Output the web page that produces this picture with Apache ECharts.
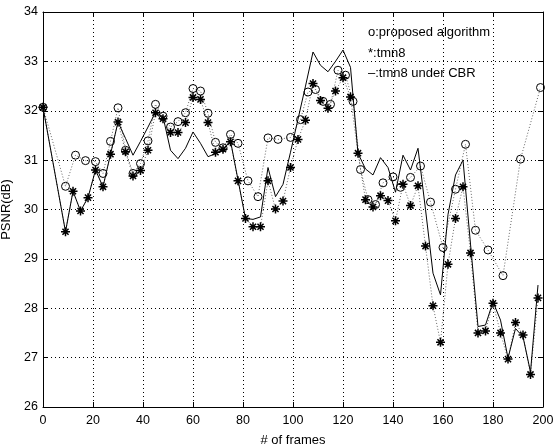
<!DOCTYPE html>
<html>
<head>
<meta charset="utf-8">
<script src="https://cdn.jsdelivr.net/npm/echarts@6/dist/echarts.min.js"></script>
<style>
html,body{margin:0;padding:0;background:#fff;}
#chart{width:556px;height:447px;}
</style>
</head>
<body>
<div id="chart"></div>
<script>
// ---- data ----
const xTickValues = [0, 20, 40, 60, 80, 100, 120, 140, 160, 180, 200];
const yTickValues = [26, 27, 28, 29, 30, 31, 32, 33, 34];

const proposedFrames = [0,9,13,17,21,24,27,30,33,36,39,42,45,48,51,54,57,60,63,66,69,72,75,78,82,86,90,94,99,103,106,109,112,115,118,121,124,127,130,133,136,140,143,147,151,155,160,165,169,173,178,184,191,199];
const proposedPSNR = [32.07,30.47,31.10,30.99,30.97,30.73,31.38,32.06,31.20,30.73,30.93,31.39,32.13,31.89,31.67,31.78,31.96,32.45,32.40,31.95,31.36,31.25,31.52,31.34,30.58,30.26,31.45,31.42,31.46,31.82,32.38,32.43,32.19,32.13,32.82,32.72,32.19,30.81,30.20,30.10,30.54,30.66,30.45,30.65,30.88,30.15,29.23,30.41,31.32,29.58,29.18,28.66,31.02,32.47];

const tmn8Frames = [0,9,12,15,18,21,24,27,30,33,36,39,42,45,48,51,54,57,60,63,66,69,72,75,78,81,84,87,90,93,96,99,102,105,108,111,114,117,120,123,126,129,132,135,138,141,144,147,150,153,156,159,162,165,168,171,174,177,180,183,186,189,192,195,198];
const tmn8PSNR = [32.07,29.55,30.37,29.97,30.24,30.80,30.46,31.12,31.77,31.17,30.68,30.79,31.20,31.96,31.84,31.56,31.56,31.76,32.27,32.23,31.76,31.16,31.22,31.37,30.58,29.82,29.65,29.65,30.58,30.01,30.17,30.85,31.42,31.81,32.55,32.21,32.05,32.40,32.67,32.28,31.14,30.20,30.05,30.28,30.18,29.77,30.51,30.08,30.48,29.26,28.05,27.31,28.89,29.82,30.46,29.12,27.50,27.54,28.10,27.50,26.97,27.71,27.46,26.66,28.21];

const cbrFrames = [0,9,12,15,18,21,24,27,30,33,36,39,42,45,48,51,54,57,60,63,66,69,72,75,78,81,84,87,90,93,96,99,102,105,108,111,114,117,120,123,126,129,132,135,138,141,144,147,150,153,156,159,162,165,168,171,174,177,180,183,186,189,192,195,198];
const cbrPSNR = [32.07,29.55,30.37,29.97,30.24,30.80,30.46,31.12,31.77,31.44,31.10,31.38,31.67,31.97,31.88,31.20,31.03,31.24,31.57,31.34,31.07,31.13,31.22,31.39,30.60,29.82,29.80,29.85,30.85,30.26,30.51,31.16,31.83,32.50,33.19,32.92,32.79,33.00,33.23,32.88,31.14,30.82,30.70,31.05,30.85,30.35,31.10,30.80,31.24,30.00,28.71,28.27,29.90,30.70,31.00,29.30,27.63,27.66,28.13,27.76,26.99,27.59,27.42,26.71,28.47];

const legendLines = ['o:proposed algorithm', '*:tmn8', '\u2013:tmn8 under CBR'];
const xName = '# of frames';
const yName = 'PSNR(dB)';

// ---- chart ----
const FONT = '"Liberation Sans", Arial, Helvetica, sans-serif';
const pair = (xs, ys) => xs.map((x, i) => [x, ys[i]]);
const asterisk = 'path://M5,0L5,10M0,5L10,5M1.6,1.6L8.4,8.4M1.6,8.4L8.4,1.6';

const chart = echarts.init(document.getElementById('chart'), null, {renderer: 'canvas'});

const baseX = {
  type: 'value', min: xTickValues[0], max: xTickValues[xTickValues.length - 1],
  interval: xTickValues[1] - xTickValues[0],
  axisLine: {show: true, onZero: false, lineStyle: {color: '#000', width: 1}},
  axisTick: {show: true, inside: true, length: 5, lineStyle: {color: '#000', width: 1}},
};
const baseY = {
  type: 'value', min: yTickValues[0], max: yTickValues[yTickValues.length - 1],
  interval: yTickValues[1] - yTickValues[0],
  axisLine: {show: true, onZero: false, lineStyle: {color: '#000', width: 1}},
  axisTick: {show: true, inside: true, length: 5, lineStyle: {color: '#000', width: 1}},
};

chart.setOption({
  animation: false,
  backgroundColor: '#fff',
  grid: {left: 43, right: 13, top: 12, bottom: 40, containLabel: false, outerBoundsMode: 'none'},
  xAxis: [
    Object.assign({}, baseX, {
      position: 'bottom',
      axisLabel: {show: true, color: '#000', fontSize: 12.5, fontFamily: FONT, margin: 7},
      splitLine: {show: true, lineStyle: {color: '#000', type: [1, 3], width: 1}},
      name: xName, nameLocation: 'middle', nameGap: 27,
      nameTextStyle: {color: '#000', fontSize: 13, fontFamily: FONT}
    }),
    Object.assign({}, baseX, {
      position: 'top',
      axisLabel: {show: false},
      splitLine: {show: false}
    })
  ],
  yAxis: [
    Object.assign({}, baseY, {
      position: 'left',
      axisLabel: {show: true, color: '#000', fontSize: 12.5, fontFamily: FONT, margin: 5},
      splitLine: {show: true, lineStyle: {color: '#000', type: [1, 3], width: 1}},
      name: yName, nameLocation: 'middle', nameGap: 29, nameRotate: 90,
      nameTextStyle: {color: '#000', fontSize: 13, fontFamily: FONT}
    }),
    Object.assign({}, baseY, {
      position: 'right',
      axisLabel: {show: false},
      splitLine: {show: false}
    })
  ],
  series: [
    {
      type: 'line', name: 'proposed', xAxisIndex: 0, yAxisIndex: 0,
      data: pair(proposedFrames, proposedPSNR),
      symbol: 'circle', symbolSize: 8,
      itemStyle: {color: 'rgba(0,0,0,0)', borderColor: '#000', borderWidth: 1},
      lineStyle: {color: '#666', width: 1, type: [1, 2]},
      z: 2
    },
    {
      type: 'line', name: 'tmn8', xAxisIndex: 0, yAxisIndex: 0,
      data: pair(tmn8Frames, tmn8PSNR),
      symbol: asterisk, symbolSize: 9,
      itemStyle: {color: 'rgba(0,0,0,0)', borderColor: '#000', borderWidth: 1.5},
      lineStyle: {color: '#666', width: 1, type: [1, 2]},
      z: 3
    },
    {
      type: 'line', name: 'cbr', xAxisIndex: 0, yAxisIndex: 0,
      data: pair(cbrFrames, cbrPSNR),
      symbol: 'none',
      lineStyle: {color: '#000', width: 1, type: 'solid'},
      z: 4
    }
  ],
  graphic: legendLines.map((t, i) => ({
    type: 'text', left: 368, top: 26 + i * 20.5,
    style: {text: t, fill: '#000', font: '13px ' + FONT}
  }))
});
</script>
</body>
</html>
